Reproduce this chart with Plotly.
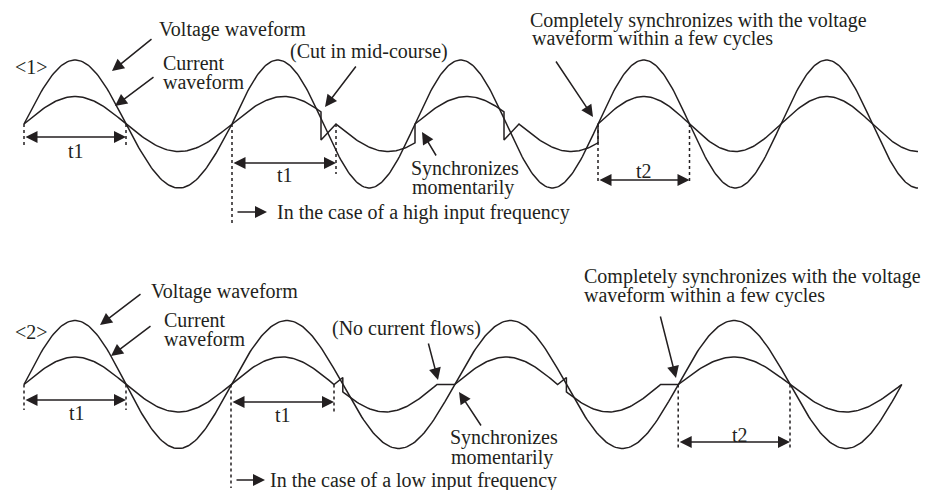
import numpy as np
import plotly.graph_objects as go

# ----- amplitudes (pixel scale of the time axis) -----
V_AMP = 64.0      # voltage waveform
I_AMP = 27.5      # current waveform

# ----- <1> high input frequency -----
BASE_1 = 124
V1_ZEROS = [24, 126, 232, 323.5, 415, 506.5, 598, 689.5, 781, 872.5, 963.5]
V1_END = 918
# ("arc", start, end, sign, clip_hi[, clip_lo]) / ("pt", x, value)
I1_PATH = [
    ("arc", 24, 126, 1, None),
    ("arc", 126, 232, -1, None),
    ("arc", 232, 336, 1, 321),
    ("pt", 321, -16),
    ("arc", 336, 440, -1, 415),
    ("pt", 415, 0),
    ("arc", 415, 519, 1, 504),
    ("pt", 504, -16),
    ("arc", 519, 623, -1, 598),
    ("pt", 598, 0),
    ("arc", 598, 689.5, 1, None),
    ("arc", 689.5, 781, -1, None),
    ("arc", 781, 872.5, 1, None),
    ("arc", 872.5, 963.5, -1, 918),
]
T1_SPANS_1 = [(24, 126), (232, 336)]
T2_SPAN_1 = (598, 689.5)

# ----- <2> low input frequency -----
BASE_2 = 384.5
V2_ZEROS = [24, 126, 231, 342.8, 454.6, 566.4, 678.2, 790, 901.8]
V2_END = 901.8
I2_PATH = [
    ("arc", 24, 126, 1, None),
    ("arc", 126, 231, -1, None),
    ("arc", 231, 334, 1, None),
    ("pt", 342.8, 7),
    ("arc", 334, 437, -1, None, 342.8),
    ("pt", 454.6, 0),
    ("arc", 454.6, 557.6, 1, None),
    ("pt", 566.4, 7),
    ("arc", 557.6, 660.6, -1, None, 566.4),
    ("pt", 678.2, 0),
    ("arc", 678.2, 790, 1, None),
    ("arc", 790, 901.8, -1, None),
]
T1_SPANS_2 = [(24, 126), (231, 334)]
T2_SPAN_2 = (678.2, 790)

INK = "#231f20"
FONT = dict(family="Liberation Serif, Times New Roman, serif", size=20, color=INK)


def arc_points(x0, x1, sign, amp, hi=None, lo=None):
    hi = x1 if hi is None else hi
    lo = x0 if lo is None else lo
    xs = np.linspace(lo, hi, 60)
    return xs, sign * amp * np.sin(np.pi * (xs - x0) / (x1 - x0))


def voltage_xy(zeros, end, base):
    xs, ys = [], []
    for k in range(len(zeros) - 1):
        x0, x1 = zeros[k], zeros[k + 1]
        if x0 >= end:
            break
        ax, ay = arc_points(x0, x1, 1 if k % 2 == 0 else -1, V_AMP, hi=min(x1, end))
        xs += list(ax)
        ys += list(base - ay)
    return xs, ys


def current_xy(path, base):
    xs, ys = [], []
    for seg in path:
        if seg[0] == "pt":
            xs.append(seg[1])
            ys.append(base - seg[2])
        else:
            lo = seg[5] if len(seg) > 5 else None
            ax, ay = arc_points(seg[1], seg[2], seg[3], I_AMP, hi=seg[4], lo=lo)
            xs += list(ax)
            ys += list(base - ay)
    return xs, ys


fig = go.Figure()
for xy in [voltage_xy(V1_ZEROS, V1_END, BASE_1), current_xy(I1_PATH, BASE_1),
           voltage_xy(V2_ZEROS, V2_END, BASE_2), current_xy(I2_PATH, BASE_2)]:
    fig.add_trace(go.Scatter(x=xy[0], y=xy[1], mode="lines",
                             line=dict(color=INK, width=1.5), hoverinfo="skip"))

shapes = []


def vdash(x, y0, y1):
    shapes.append(dict(type="line", xref="x", yref="y", x0=x, x1=x, y0=y0, y1=y1,
                       line=dict(color=INK, width=1.5, dash="dot")))


# dotted markers at the period boundaries
vdash(T1_SPANS_1[0][0], BASE_1, 147)
vdash(T1_SPANS_1[0][1], BASE_1, 147)
vdash(T1_SPANS_1[1][0], BASE_1, 224)
vdash(T1_SPANS_1[1][1], BASE_1, 174)
vdash(T2_SPAN_1[0], BASE_1, 184)
vdash(T2_SPAN_1[1], BASE_1, 184)
vdash(T1_SPANS_2[0][0], BASE_2, 410)
vdash(T1_SPANS_2[0][1], BASE_2, 410)
vdash(T1_SPANS_2[1][0], BASE_2, 488)
vdash(T1_SPANS_2[1][1], BASE_2, 412)
vdash(T2_SPAN_2[0], BASE_2, 450)
vdash(T2_SPAN_2[1], BASE_2, 450)

ann = []


def arrow(x0, y0, x1, y1, both=False):
    ann.append(dict(x=x1, y=y1, ax=x0, ay=y0, xref="x", yref="y", axref="x", ayref="y",
                    text="", showarrow=True, arrowhead=2, arrowsize=1.6, arrowwidth=1.5,
                    arrowcolor=INK, standoff=0, startstandoff=0,
                    arrowside="end+start" if both else "end", startarrowhead=2,
                    startarrowsize=1.6))


def label(x, y, txt, anchor="left"):
    ann.append(dict(x=x, y=y, xref="x", yref="y", text=txt, showarrow=False,
                    xanchor=anchor, yanchor="middle", font=FONT))


# span arrows
arrow(T1_SPANS_1[0][0], 137, T1_SPANS_1[0][1], 137, both=True)
arrow(T1_SPANS_1[1][0], 163, T1_SPANS_1[1][1], 163, both=True)
arrow(T2_SPAN_1[0], 180, T2_SPAN_1[1], 180, both=True)
arrow(T1_SPANS_2[0][0], 400, T1_SPANS_2[0][1], 400, both=True)
arrow(T1_SPANS_2[1][0], 402, T1_SPANS_2[1][1], 402, both=True)
arrow(T2_SPAN_2[0], 442, T2_SPAN_2[1], 442, both=True)
label(76, 151, "t1", "center")
label(285, 175, "t1", "center")
label(644, 171, "t2", "center")
label(77, 413, "t1", "center")
label(283, 415, "t1", "center")
label(740, 435, "t2", "center")

# pointers - panel <1>
arrow(153, 38, 112, 71)
arrow(155, 76, 115, 106)
arrow(357, 65, 325, 107)
arrow(437, 157, 422, 132)
arrow(555, 60, 593, 117)
arrow(236, 212, 267, 212)
label(13, 67, "&lt;1&gt;")
label(157, 29, "Voltage waveform")
label(161, 63, "Current")
label(161, 82, "waveform")
label(288, 51, "(Cut in mid-course)")
label(409, 168, "Synchronizes")
label(410, 187, "momentarily")
label(528, 20, "Completely synchronizes with the voltage")
label(530, 38, "waveform within a few cycles")
label(275, 212, "In the case of a high input frequency")

# pointers - panel <2>
arrow(142, 293, 100, 325)
arrow(152, 325, 111, 356)
arrow(428, 342, 438, 380)
arrow(482, 427, 459, 392)
arrow(660, 315, 676, 378)
arrow(235, 480, 265, 480)
label(13, 332, "&lt;2&gt;")
label(149, 291, "Voltage waveform")
label(162, 320, "Current")
label(162, 339, "waveform")
label(330, 328, "(No current flows)")
label(448, 437, "Synchronizes")
label(449, 457, "momentarily")
label(582, 276, "Completely synchronizes with the voltage")
label(582, 295, "waveform within a few cycles")
label(268, 480, "In the case of a low input frequency")

fig.update_layout(
    width=927, height=490,
    margin=dict(l=0, r=0, t=0, b=0),
    paper_bgcolor="white", plot_bgcolor="white",
    showlegend=False,
    xaxis=dict(range=[0, 927], visible=False, fixedrange=True),
    yaxis=dict(range=[490, 0], visible=False, fixedrange=True),
    shapes=shapes,
    annotations=ann,
)

# page body margin would shift the figure by 8px
fig.write_html("out.html", config={"displayModeBar": False},
               post_script="document.body.style.margin='0';")
